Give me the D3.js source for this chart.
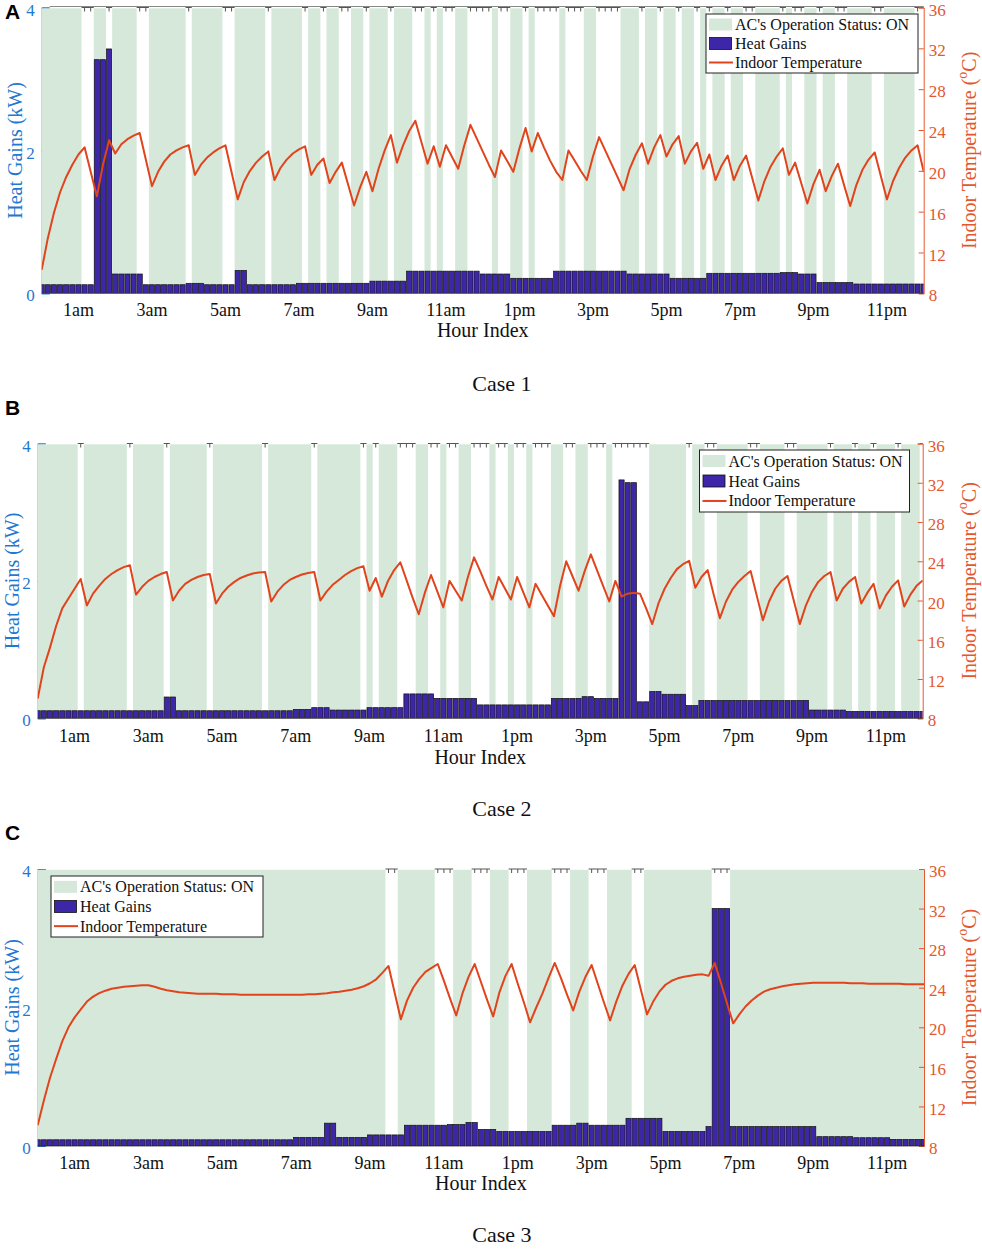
<!DOCTYPE html>
<html><head><meta charset="utf-8">
<script src="https://cdn.jsdelivr.net/npm/d3@7"></script>
<style>body{margin:0;background:#fff}</style>
</head><body>
<svg id="chart" width="982" height="1249" xmlns="http://www.w3.org/2000/svg"></svg>
<script>
// ---------------- DATA (10-minute steps, index 0..144 = 0h..24h) ----------------
const hourTickSteps = [6,18,30,42,54,66,78,90,102,114,126,138];
const hourTickLabels = ["1am","3am","5am","7am","9am","11am","1pm","3pm","5pm","7pm","9pm","11pm"];
const heatTicks = [0,2,4];
const tempTicks = [8,12,16,20,24,28,32,36];
const legendLabels = ["AC's Operation Status: ON","Heat Gains","Indoor Temperature"];
const caseLabels = ["Case 1","Case 2","Case 3"];
const panelLetters = ["A","B","C"];

// AC ON intervals (inclusive step ranges)
const acOnA = [[0,6],[9,10],[12,15],[18,23],[25,29],[32,36],[38,42],[44,45],[47,48],[51,52],[54,56],[58,60],[63,63],[65,65],[68,69],[74,74],[77,78],[80,80],[85,85],[89,90],[95,97],[99,100],[102,103],[105,106],[108,108],[110,111],[113,114],[117,120],[122,122],[125,126],[128,129],[132,135],[138,142]];
const acOnB = [[0,6],[8,14],[16,20],[22,27],[29,36],[38,44],[46,52],[54,54],[56,58],[62,63],[66,66],[69,70],[74,74],[77,77],[80,80],[84,85],[88,89],[93,93],[100,105],[107,108],[111,115],[118,121],[124,128],[130,132],[134,135],[137,139],[141,143]];
const acOnC = [[0,56],[59,64],[68,70],[74,76],[80,83],[87,89],[93,96],[99,109],[113,144]];

// Heat gains (kW)
const heatA = [
0.12,0.12,0.12,0.12,0.12,0.12,0.12,0.12,0.12,
3.27,3.27,3.42,
0.27,0.27,0.27,0.27,0.27,
0.12,0.12,0.12,0.12,0.12,0.12,0.12,
0.14,0.14,0.14,
0.12,0.12,0.12,0.12,0.12,
0.32,0.32,
0.12,0.12,0.12,0.12,0.12,0.12,0.12,0.12,
0.14,0.14,0.14,0.14,0.14,0.14,0.14,0.14,0.14,0.14,0.14,0.14,
0.17,0.17,0.17,0.17,0.17,0.17,
0.31,0.31,0.31,0.31,0.31,0.31,0.31,0.31,0.31,0.31,0.31,0.31,
0.27,0.27,0.27,0.27,0.27,
0.21,0.21,0.21,0.21,0.21,0.21,0.21,
0.31,0.31,0.31,0.31,0.31,0.31,0.31,0.31,0.31,0.31,0.31,0.31,
0.27,0.27,0.27,0.27,0.27,0.27,0.27,
0.21,0.21,0.21,0.21,0.21,0.21,
0.28,0.28,0.28,0.28,0.28,0.28,0.28,0.28,0.28,0.28,0.28,0.28,
0.29,0.29,0.29,
0.27,0.27,0.27,
0.15,0.15,0.15,0.15,0.15,0.15,
0.13,0.13,0.13,0.13,0.13,0.13,0.13,0.13,0.13,0.13,0.13,0.13];
const heatB = [
0.11,0.11,0.11,0.11,0.11,0.11,0.11,
0.11,0.11,0.11,0.11,0.11,0.11,0.11,
0.11,0.11,0.11,0.11,0.11,0.11,0.11,
0.31,0.31,
0.11,0.11,0.11,0.11,0.11,0.11,0.11,
0.11,0.11,0.11,0.11,0.11,0.11,0.11,
0.11,0.11,0.11,0.11,0.11,
0.13,0.13,0.13,
0.155,0.155,0.155,
0.12,0.12,0.12,0.12,0.12,0.12,
0.155,0.155,0.155,0.155,0.155,0.155,
0.355,0.355,0.355,0.355,0.355,
0.29,0.29,0.29,0.29,0.29,0.29,0.29,
0.195,0.195,0.195,0.195,0.195,0.195,
0.195,0.195,0.195,0.195,0.195,0.195,
0.29,0.29,0.29,0.29,0.29,
0.315,0.315,
0.29,0.29,0.29,0.29,
3.47,3.43,3.43,
0.24,0.24,
0.39,0.39,
0.35,0.35,0.35,0.35,
0.185,0.185,
0.26,0.26,0.26,0.26,0.26,0.26,
0.26,0.26,0.26,0.26,0.26,0.26,
0.26,0.26,0.26,0.26,0.26,0.26,
0.12,0.12,0.12,0.12,0.12,0.12,
0.10,0.10,0.10,0.10,0.10,0.10,
0.10,0.10,0.10,0.10,0.10,0.10,0.10];
const heatC = [
0.09,0.09,0.09,0.09,0.09,0.09,0.09,
0.09,0.09,0.09,0.09,0.09,0.09,0.09,
0.09,0.09,0.09,0.09,0.09,0.09,0.09,
0.09,0.09,0.09,0.09,0.09,0.09,0.09,
0.09,0.09,0.09,0.09,0.09,0.09,0.09,
0.09,0.09,0.09,0.09,0.09,0.09,0.09,
0.125,0.125,0.125,0.125,0.125,
0.33,0.33,
0.125,0.125,0.125,0.125,0.125,
0.16,0.16,0.16,0.16,0.16,0.16,
0.30,0.30,0.30,0.30,0.30,0.30,0.30,
0.31,0.31,0.31,
0.34,0.34,
0.24,0.24,0.24,
0.21,0.21,0.21,0.21,0.21,0.21,0.21,0.21,0.21,
0.30,0.30,0.30,0.30,
0.33,0.33,
0.30,0.30,0.30,0.30,0.30,0.30,
0.40,0.40,0.40,0.40,0.40,0.40,
0.21,0.21,0.21,0.21,0.21,0.21,0.21,
0.28,
3.43,3.43,3.43,
0.28,0.28,0.28,0.28,0.28,0.28,0.28,
0.28,0.28,0.28,0.28,0.28,0.28,0.28,
0.135,0.135,0.135,0.135,0.135,0.135,
0.12,0.12,0.12,0.12,0.12,0.12,
0.096,0.096,0.096,0.096,0.096,0.096];

// Indoor temperature (°C)
const tempA = [10.3,13.4,15.9,17.9,19.4,20.6,21.6,22.3,
19.9,17.5,20.6,23.0,21.7,
22.6,23.1,23.45,23.7,
21.1,18.5,
19.9,20.9,21.6,22.0,22.3,22.5,
19.6,
20.6,21.3,21.8,22.2,22.5,
19.85,17.2,
18.9,20.0,20.8,21.4,21.9,
19.1,
20.3,21.1,21.7,22.1,22.4,
19.6,20.6,21.2,
18.8,19.9,20.8,
18.7,16.6,18.4,19.9,
18.0,20.2,22.0,23.5,
20.8,22.5,23.9,24.9,
22.8,20.7,22.4,20.4,22.5,
21.35,20.2,22.5,24.5,
23.2,21.9,20.6,19.4,
22.0,20.95,19.9,22.2,24.2,
21.9,23.7,
22.3,21.0,19.9,19.1,
22.0,21.0,20.0,19.1,
21.4,23.3,
22.0,20.7,19.4,18.1,
20.2,21.6,22.7,
20.7,22.3,23.5,
21.4,22.6,23.4,
20.7,21.9,22.75,
20.2,21.6,
19.1,20.5,21.5,
19.1,20.5,21.5,
19.3,17.1,
19.0,20.4,21.4,22.2,
19.6,20.8,
18.8,16.8,
18.7,20.1,
18.0,19.5,20.7,
18.6,16.55,
18.6,20.1,21.1,21.8,
19.5,17.2,
19.0,20.3,21.3,22.0,22.5,
19.9];
const tempB = [10.0,13.2,15.2,17.4,19.2,20.2,21.2,22.2,
19.5,20.7,21.5,22.2,22.7,23.1,23.4,23.6,
20.6,21.4,22.0,22.4,22.7,22.9,
20.0,21.0,21.7,22.1,22.4,22.6,22.7,
19.7,20.7,21.4,21.9,22.3,22.55,22.75,22.85,22.9,
19.9,20.9,21.6,22.1,22.4,22.65,22.8,22.9,
20.0,20.9,21.6,22.1,22.6,23.0,23.3,23.5,
21.0,22.3,20.4,22.0,23.1,23.9,
22.1,20.3,18.6,20.8,22.6,
20.95,19.3,22.0,21.0,20.0,22.4,24.4,
23.0,21.5,20.1,22.4,21.25,20.1,22.4,
20.85,19.3,21.7,20.6,19.5,18.4,
21.5,24.0,22.5,21.0,23.0,24.7,
23.1,21.5,19.9,22.0,
20.4,20.7,20.8,20.7,19.2,17.6,
19.7,21.2,22.3,23.2,23.7,24.05,
21.3,22.4,23.1,20.6,18.2,
19.9,21.1,21.9,22.5,23.0,
20.5,18.0,19.9,21.2,22.0,22.5,
20.05,17.6,19.5,20.9,21.9,22.5,22.9,
20.0,21.2,21.9,22.4,
19.7,20.8,21.7,
19.2,20.5,21.4,22.05,
19.4,20.6,21.5,22.05];
const tempC = [10.1,12.6,14.9,16.8,18.6,20.0,21.0,21.8,22.6,23.1,
23.45,23.7,23.9,24.0,24.1,24.15,24.2,24.25,24.25,24.1,
23.9,23.75,23.65,23.55,23.5,23.45,23.4,23.4,23.4,23.4,
23.35,23.35,23.35,23.3,23.3,23.3,23.3,23.3,23.3,23.3,
23.3,23.3,23.3,23.3,23.35,23.35,23.4,23.45,23.55,23.6,
23.7,23.8,23.95,24.15,24.45,24.85,25.5,26.2,23.5,20.8,
22.7,24.0,24.9,25.6,26.0,26.4,24.7,22.9,21.2,23.4,
25.1,26.4,24.6,22.8,21.1,23.5,25.2,26.4,24.4,22.5,
20.5,22.0,23.4,25.0,26.5,25.0,23.3,21.7,23.6,25.1,
26.3,24.4,22.5,20.7,22.6,24.2,25.4,26.3,23.8,21.3,
22.6,23.6,24.3,24.7,24.95,25.1,25.2,25.3,25.35,25.2,
26.5,24.5,22.4,20.4,21.3,22.1,22.7,23.2,23.6,23.85,
24.0,24.15,24.25,24.35,24.4,24.45,24.5,24.5,24.5,24.5,
24.5,24.5,24.45,24.45,24.45,24.4,24.4,24.4,24.4,24.4,
24.4,24.35,24.35,24.35,24.35];

// ---------------- STYLE ----------------
const GREEN = "#d5e8da", BAR = "#3e26a8", LINE = "#e1441c",
      BLUE = "#1f78d1", ORANGE = "#e4572e", SERIF = "'Liberation Serif','Times New Roman',serif";

const panels = [
  {heat:heatA, temp:tempA, ac:acOnA, L:41.7, R:923.7, T:7.5, B:293.3, topLine:true,
   leg:{x:706, y:14, w:212, h:59}, letterY:19, tickY:310, titleY:330, caseY:383, leftLabX:15},
  {heat:heatB, temp:tempB, ac:acOnB, L:37.7, R:922.7, T:443.5, B:718.3, topLine:false,
   leg:{x:699.5, y:450, w:210, h:62}, letterY:415, tickY:736, titleY:757, caseY:808, leftLabX:12},
  {heat:heatC, temp:tempC, ac:acOnC, L:37.7, R:924, T:869, B:1146, topLine:false,
   leg:{x:51, y:876, w:212, h:61}, letterY:840, tickY:1163, titleY:1183, caseY:1234, leftLabX:12}
];

const svg = d3.select("#chart");

panels.forEach((p, idx) => {
  const x = d3.scaleLinear().domain([0,144]).range([p.L, p.R]);
  const yH = d3.scaleLinear().domain([0,4]).range([p.B, p.T]);
  const yT = d3.scaleLinear().domain([8,36]).range([p.B, p.T]);
  const g = svg.append("g");
  const clipId = "clip" + idx;
  svg.append("defs").append("clipPath").attr("id", clipId)
    .append("rect").attr("x", p.L).attr("y", p.T).attr("width", p.R - p.L).attr("height", p.B - p.T);

  // left axis (drawn below the green background)
  const la = g.append("g").attr("transform", `translate(${p.L},0)`)
    .call(d3.axisLeft(yH).tickValues(heatTicks).tickSize(-8).tickPadding(7).tickFormat(d3.format("d")));
  la.select(".domain").attr("stroke", BLUE);
  la.selectAll(".tick line").attr("stroke", BLUE);
  la.selectAll(".tick text").attr("fill", BLUE).attr("dy", "0.45em")
    .style("font-family", SERIF).style("font-size", "17px");

  const plot = g.append("g").attr("clip-path", `url(#${clipId})`);

  // AC ON background
  plot.selectAll("rect.ac").data(p.ac).join("rect").attr("class", "ac")
    .attr("x", d => x(d[0] - 0.5)).attr("width", d => x(d[1] + 0.5) - x(d[0] - 0.5))
    .attr("y", p.T + 0.8).attr("height", p.B - p.T).attr("fill", GREEN);

  // heat gains bars
  plot.selectAll("rect.bar").data(p.heat).join("rect").attr("class", "bar")
    .attr("x", (d, k) => x(k - 0.42)).attr("width", x(0.84) - x(0))
    .attr("y", d => yH(d)).attr("height", d => yH(0) - yH(d))
    .attr("fill", BAR).attr("stroke", "#111").attr("stroke-width", 0.7);

  // indoor temperature line
  plot.append("path").datum(p.temp)
    .attr("d", d3.line().x((d, k) => x(k)).y(d => yT(d)))
    .attr("fill", "none").attr("stroke", LINE).attr("stroke-width", 2).attr("stroke-linejoin", "round");

  // top edge marks over OFF gaps
  const status = new Array(145).fill(0);
  p.ac.forEach(([a, b]) => { for (let k = a; k <= b; k++) status[k] = 1; });
  if (p.topLine) {
    g.append("line").attr("x1", p.L + 8).attr("x2", p.R).attr("y1", p.T - 1).attr("y2", p.T - 1)
      .attr("stroke", "#888").attr("stroke-width", 1);
  }
  const gaps = [];
  for (let k = 0; k <= 144; k++) {
    if (!status[k]) {
      if (gaps.length && gaps[gaps.length - 1][1] === k - 1) gaps[gaps.length - 1][1] = k;
      else gaps.push([k, k]);
    }
  }
  gaps.forEach(([a, b]) => {
    const x0 = Math.max(p.L, x(a - 0.5)), x1 = Math.min(p.R, x(b + 0.5));
    g.append("line").attr("x1", x0).attr("x2", x1).attr("y1", p.T).attr("y2", p.T)
      .attr("stroke", "#555").attr("stroke-width", 1);
    for (let k = a; k <= b; k++) {
      if (k >= 144) continue;
      g.append("line").attr("x1", x(k)).attr("x2", x(k)).attr("y1", p.T).attr("y2", p.T + 4)
        .attr("stroke", "#555").attr("stroke-width", 1);
    }
  });

  // right axis
  const ra = g.append("g").attr("transform", `translate(${p.R},0)`)
    .call(d3.axisRight(yT).tickValues(tempTicks).tickSize(-5).tickPadding(5));
  ra.select(".domain").attr("stroke", ORANGE);
  ra.selectAll(".tick line").attr("stroke", ORANGE);
  ra.selectAll(".tick text").attr("fill", ORANGE).attr("dy", "0.45em")
    .style("font-family", SERIF).style("font-size", "17px");

  // bottom axis line + hour tick labels
  g.append("line").attr("x1", p.L).attr("x2", p.R).attr("y1", p.B).attr("y2", p.B)
    .attr("stroke", "#333").attr("stroke-width", 0.8);
  g.selectAll("text.xt").data(hourTickSteps).join("text").attr("class", "xt")
    .attr("x", d => x(d)).attr("y", p.tickY).attr("text-anchor", "middle").attr("dominant-baseline", "central")
    .style("font-family", SERIF).style("font-size", "18px").attr("fill", "#111")
    .text((d, i) => hourTickLabels[i]);

  // axis titles
  g.append("text").attr("x", (p.L + p.R) / 2).attr("y", p.titleY).attr("text-anchor", "middle")
    .attr("dominant-baseline", "central").style("font-family", SERIF).style("font-size", "20px").attr("fill", "#111")
    .text("Hour Index");
  const midY = (p.T + p.B) / 2;
  g.append("text").attr("transform", `translate(${p.leftLabX},${midY}) rotate(-90)`)
    .attr("text-anchor", "middle").attr("dominant-baseline", "central")
    .style("font-family", SERIF).style("font-size", "20px").attr("fill", BLUE)
    .text("Heat Gains (kW)");
  const rt = g.append("text").attr("transform", `translate(${969},${midY}) rotate(-90)`)
    .attr("text-anchor", "middle").attr("dominant-baseline", "central")
    .style("font-family", SERIF).style("font-size", "20px").attr("fill", ORANGE);
  rt.append("tspan").text("Indoor Temperature (");
  rt.append("tspan").attr("dy", -7).style("font-size", "14px").text("o");
  rt.append("tspan").attr("dy", 7).text("C)");

  // legend
  const lg = g.append("g").attr("transform", `translate(${p.leg.x},${p.leg.y})`);
  lg.append("rect").attr("width", p.leg.w).attr("height", p.leg.h).attr("fill", "#fff")
    .attr("stroke", "#222").attr("stroke-width", 1);
  const rowY = [10.5, 29.5, 48.5].map(v => v * p.leg.h / 59);
  lg.append("rect").attr("x", 3).attr("y", rowY[0] - 6).attr("width", 23).attr("height", 12).attr("fill", GREEN);
  lg.append("rect").attr("x", 3.5).attr("y", rowY[1] - 6).attr("width", 22).attr("height", 12)
    .attr("fill", BAR).attr("stroke", "#111").attr("stroke-width", 0.8);
  lg.append("line").attr("x1", 3).attr("x2", 27).attr("y1", rowY[2]).attr("y2", rowY[2])
    .attr("stroke", LINE).attr("stroke-width", 2);
  lg.selectAll("text").data(legendLabels).join("text")
    .attr("x", 29).attr("y", (d, i) => rowY[i]).attr("dominant-baseline", "central")
    .style("font-family", SERIF).style("font-size", "16px").attr("fill", "#111").text(d => d);

  // panel letter and case caption
  svg.append("text").attr("x", 5).attr("y", p.letterY)
    .style("font-family", "'Liberation Sans',Arial,sans-serif").style("font-weight", "bold").style("font-size", "21px")
    .attr("fill", "#000").text(panelLetters[idx]);
  svg.append("text").attr("x", 502).attr("y", p.caseY).attr("text-anchor", "middle").attr("dominant-baseline", "central")
    .style("font-family", SERIF).style("font-size", "22px").attr("fill", "#111").text(caseLabels[idx]);
});
</script>
</body></html>
